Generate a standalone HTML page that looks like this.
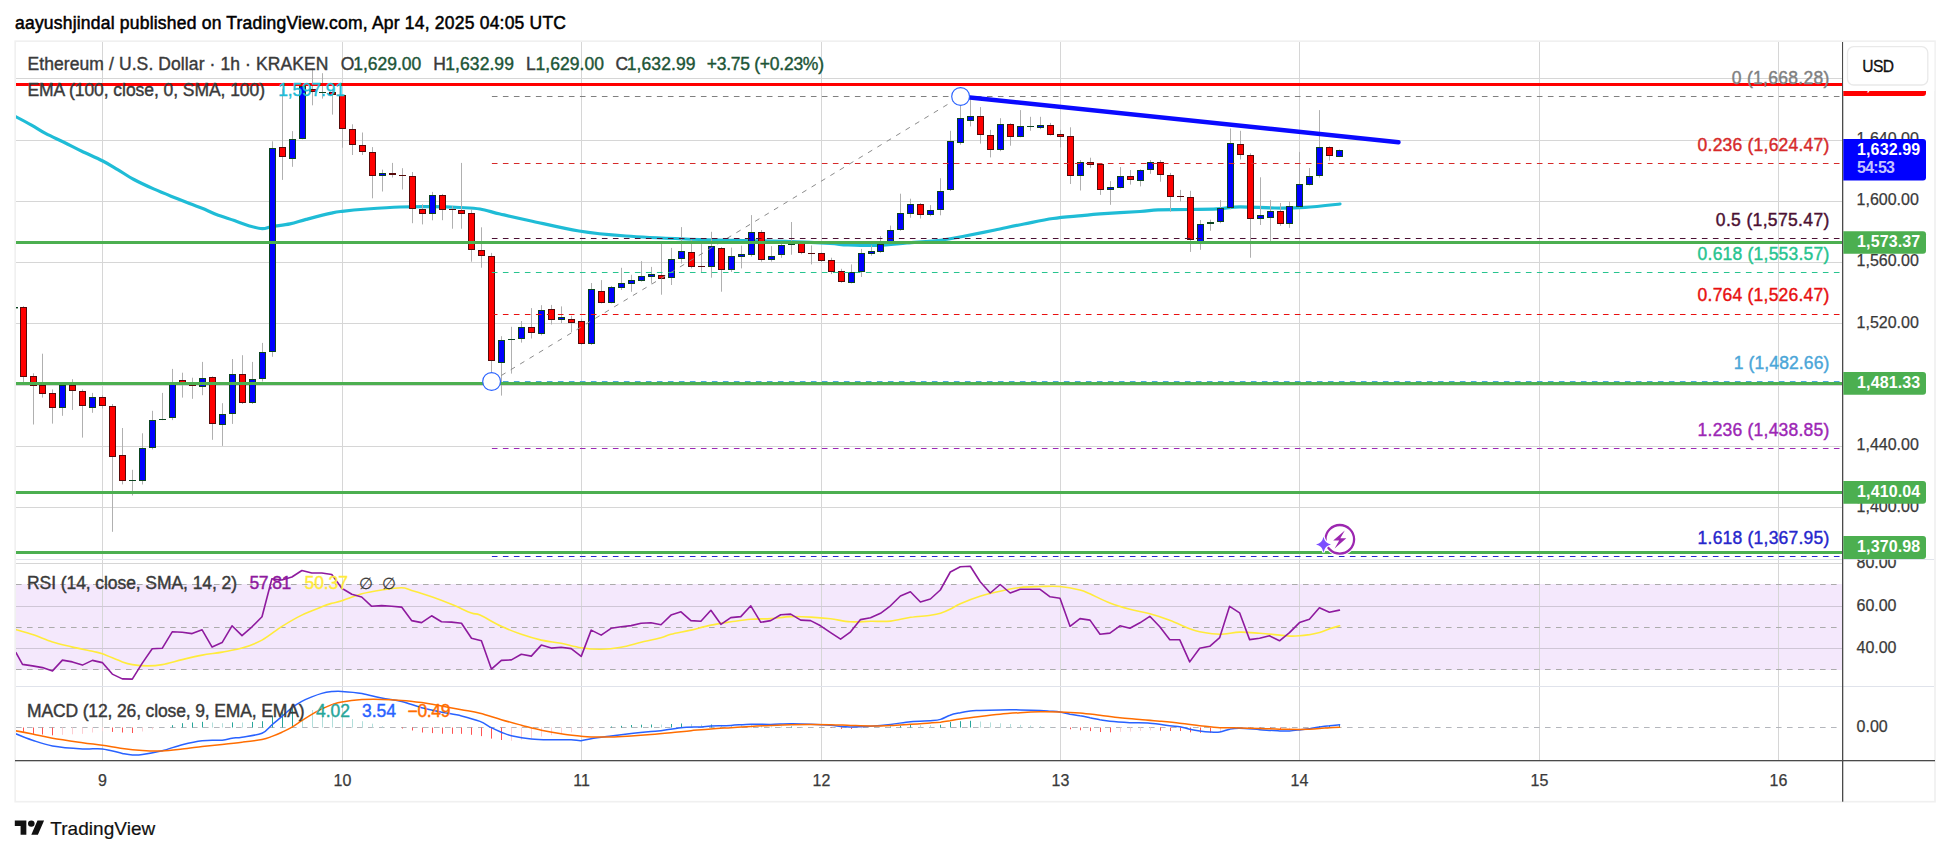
<!DOCTYPE html>
<html><head><meta charset="utf-8"><title>ETHUSD chart</title>
<style>html,body{margin:0;padding:0;background:#fff}svg{display:block}text{font-family:"Liberation Sans",sans-serif;white-space:pre}</style></head><body>
<svg width="1950" height="855" viewBox="0 0 1950 855">
<rect width="1950" height="855" fill="#fff"/>
<defs><clipPath id="cm"><rect x="16" y="42" width="1826.0" height="517.0"/></clipPath>
<clipPath id="call"><rect x="16" y="42" width="1826.0" height="718.0"/></clipPath>
<clipPath id="cax"><rect x="1842.0" y="559.8" width="95" height="200"/></clipPath></defs>
<text x="15.0" y="28.5" font-size="17.5" fill="#000" text-anchor="start" font-weight="normal" textLength="551.0" lengthAdjust="spacing" stroke="#000" stroke-width="0.5" >aayushjindal published on TradingView.com, Apr 14, 2025 04:05 UTC</text>
<rect x="15.2" y="41.2" width="1919.8" height="760.5" fill="#fff" stroke="#f0f0f0" stroke-width="1.7"/>
<rect x="16" y="584" width="1826" height="86" fill="#f4e8fc"/>
<rect x="102" y="42.0" width="1" height="718.0" fill="#d6d6d6"/>
<rect x="342" y="42.0" width="1" height="718.0" fill="#d6d6d6"/>
<rect x="581" y="42.0" width="1" height="718.0" fill="#d6d6d6"/>
<rect x="821" y="42.0" width="1" height="718.0" fill="#d6d6d6"/>
<rect x="1060" y="42.0" width="1" height="718.0" fill="#d6d6d6"/>
<rect x="1299" y="42.0" width="1" height="718.0" fill="#d6d6d6"/>
<rect x="1539" y="42.0" width="1" height="718.0" fill="#d6d6d6"/>
<rect x="1778" y="42.0" width="1" height="718.0" fill="#d6d6d6"/>
<rect x="16.0" y="78" width="1826.0" height="1" fill="#d6d6d6"/>
<rect x="16.0" y="140" width="1826.0" height="1" fill="#d6d6d6"/>
<rect x="16.0" y="201" width="1826.0" height="1" fill="#d6d6d6"/>
<rect x="16.0" y="262" width="1826.0" height="1" fill="#d6d6d6"/>
<rect x="16.0" y="323" width="1826.0" height="1" fill="#d6d6d6"/>
<rect x="16.0" y="385" width="1826.0" height="1" fill="#d6d6d6"/>
<rect x="16.0" y="446" width="1826.0" height="1" fill="#d6d6d6"/>
<rect x="16.0" y="507" width="1826.0" height="1" fill="#d6d6d6"/>
<rect x="16.0" y="563" width="1826.0" height="1" fill="#d6d6d6"/>
<rect x="16.0" y="606" width="1826.0" height="1" fill="#cfc6d6"/>
<rect x="16.0" y="648" width="1826.0" height="1" fill="#cfc6d6"/>
<rect x="16.0" y="559" width="1918.0" height="1" fill="#e0e3eb"/>
<rect x="16.0" y="686" width="1918.0" height="1" fill="#e0e3eb"/>
<line x1="16.0" y1="584.5" x2="1842.0" y2="584.5" stroke="#ababab" stroke-width="1" stroke-dasharray="5.6 5.4" stroke-dashoffset="0"/>
<line x1="16.0" y1="627.5" x2="1842.0" y2="627.5" stroke="#ababab" stroke-width="1" stroke-dasharray="5.6 5.4" stroke-dashoffset="0"/>
<line x1="16.0" y1="669.5" x2="1842.0" y2="669.5" stroke="#ababab" stroke-width="1" stroke-dasharray="5.6 5.4" stroke-dashoffset="0"/>
<line x1="16.0" y1="727.5" x2="1842.0" y2="727.5" stroke="#b4b6bc" stroke-width="1" stroke-dasharray="5.6 5.4" stroke-dashoffset="0"/>
<g clip-path="url(#call)">
<g clip-path="url(#cm)">
<path d="M15.4 116.5 C18.1 117.9 26.4 122.2 31.5 125.1 C36.6 128.0 40.5 130.8 45.9 133.7 C51.3 136.5 57.9 139.3 63.9 142.2 C69.9 145.1 75.3 148.1 81.8 151.2 C88.3 154.3 96.8 157.9 102.8 161.0 C108.8 164.1 112.5 166.5 117.7 169.6 C122.9 172.7 127.9 176.3 133.9 179.5 C139.9 182.7 147.3 186.1 153.6 188.9 C159.9 191.7 165.6 194.0 171.6 196.4 C177.6 198.8 184.4 201.6 189.5 203.6 C194.6 205.6 197.6 206.4 202.1 208.2 C206.6 210.0 211.0 212.4 216.4 214.5 C221.8 216.6 229.0 218.7 234.4 220.6 C239.8 222.5 244.1 224.3 248.7 225.7 C253.3 227.0 258.3 228.6 262.2 228.7 C266.1 228.8 267.5 227.3 272.1 226.5 C276.7 225.7 284.3 225.1 290.0 223.9 C295.7 222.7 299.3 221.2 306.2 219.4 C313.1 217.6 325.3 214.4 331.3 213.1 C337.3 211.8 336.2 212.0 342.1 211.3 C348.1 210.6 357.4 209.7 367.0 209.0 C376.6 208.3 389.0 207.4 400.0 207.0 C411.0 206.6 423.0 206.6 433.0 206.7 C443.0 206.8 452.2 207.1 460.0 207.5 C467.8 207.9 473.3 207.9 480.0 209.0 C486.7 210.1 491.7 212.1 500.0 214.0 C508.3 215.9 516.8 217.9 530.0 220.7 C543.2 223.5 563.0 228.4 579.0 231.0 C595.0 233.6 608.3 234.7 626.0 236.0 C643.7 237.3 665.5 238.2 685.0 239.0 C704.5 239.8 725.5 240.2 743.0 240.6 C760.5 241.0 775.5 241.1 790.0 241.6 C804.5 242.1 820.3 242.9 830.0 243.5 C839.7 244.1 840.0 244.7 848.0 245.0 C856.0 245.3 868.2 245.7 878.0 245.4 C887.8 245.1 896.3 243.9 907.0 243.0 C917.7 242.1 932.3 241.2 942.0 240.0 C951.7 238.8 956.2 237.7 965.0 236.0 C973.8 234.3 985.2 232.0 995.0 230.0 C1004.8 228.0 1014.3 225.9 1024.0 224.0 C1033.7 222.1 1043.3 219.9 1053.0 218.5 C1062.7 217.1 1074.2 216.4 1082.0 215.6 C1089.8 214.8 1090.3 214.6 1100.0 213.9 C1109.7 213.2 1130.3 212.2 1140.0 211.5 C1149.7 210.8 1150.0 210.1 1158.0 209.8 C1166.0 209.5 1178.2 209.7 1188.0 209.5 C1197.8 209.3 1208.3 209.3 1217.0 208.9 C1225.7 208.5 1230.3 207.0 1240.0 206.8 C1249.7 206.7 1264.2 207.9 1275.0 208.0 C1285.8 208.1 1294.2 208.1 1305.0 207.4 C1315.8 206.7 1334.2 204.6 1340.0 204.0" fill="none" stroke="#1fbcd6" stroke-width="3.2" stroke-linejoin="round" stroke-linecap="round" />
<rect x="23" y="306.1" width="1" height="76.0" fill="#b0b0b0"/>
<rect x="33" y="373.3" width="1" height="51.2" fill="#b0b0b0"/>
<rect x="42" y="353.7" width="1" height="43.9" fill="#b0b0b0"/>
<rect x="52" y="389.4" width="1" height="34.2" fill="#b0b0b0"/>
<rect x="62" y="383.6" width="1" height="32.2" fill="#b0b0b0"/>
<rect x="72" y="379.2" width="1" height="30.7" fill="#b0b0b0"/>
<rect x="82" y="389.4" width="1" height="48.2" fill="#b0b0b0"/>
<rect x="92" y="392.9" width="1" height="19.9" fill="#b0b0b0"/>
<rect x="102" y="395.3" width="1" height="13.2" fill="#b0b0b0"/>
<rect x="112" y="404.0" width="1" height="127.8" fill="#b0b0b0"/>
<rect x="122" y="428.0" width="1" height="56.4" fill="#b0b0b0"/>
<rect x="132" y="469.8" width="1" height="25.7" fill="#b0b0b0"/>
<rect x="142" y="433.3" width="1" height="51.2" fill="#b0b0b0"/>
<rect x="152" y="410.8" width="1" height="38.6" fill="#b0b0b0"/>
<rect x="162" y="392.9" width="1" height="27.2" fill="#b0b0b0"/>
<rect x="172" y="368.9" width="1" height="51.2" fill="#b0b0b0"/>
<rect x="182" y="372.7" width="1" height="24.9" fill="#b0b0b0"/>
<rect x="192" y="377.7" width="1" height="21.1" fill="#b0b0b0"/>
<rect x="202" y="361.9" width="1" height="33.3" fill="#b0b0b0"/>
<rect x="212" y="376.3" width="1" height="63.5" fill="#b0b0b0"/>
<rect x="222" y="403.2" width="1" height="42.7" fill="#b0b0b0"/>
<rect x="232" y="359.0" width="1" height="64.9" fill="#b0b0b0"/>
<rect x="242" y="355.2" width="1" height="48.8" fill="#b0b0b0"/>
<rect x="252" y="361.9" width="1" height="42.1" fill="#b0b0b0"/>
<rect x="262" y="342.9" width="1" height="38.6" fill="#b0b0b0"/>
<rect x="272" y="141.3" width="1" height="215.5" fill="#b0b0b0"/>
<rect x="282" y="88.7" width="1" height="91.2" fill="#b0b0b0"/>
<rect x="292" y="131.1" width="1" height="35.7" fill="#b0b0b0"/>
<rect x="302" y="84.0" width="1" height="55.3" fill="#b0b0b0"/>
<rect x="312" y="68.2" width="1" height="37.1" fill="#b0b0b0"/>
<rect x="322" y="73.2" width="1" height="25.4" fill="#b0b0b0"/>
<rect x="332" y="89.2" width="1" height="25.4" fill="#b0b0b0"/>
<rect x="342" y="94.5" width="1" height="53.2" fill="#b0b0b0"/>
<rect x="352" y="124.3" width="1" height="30.7" fill="#b0b0b0"/>
<rect x="362" y="132.5" width="1" height="22.5" fill="#b0b0b0"/>
<rect x="372" y="147.1" width="1" height="51.2" fill="#b0b0b0"/>
<rect x="382" y="169.6" width="1" height="21.9" fill="#b0b0b0"/>
<rect x="392" y="162.9" width="1" height="14.6" fill="#b0b0b0"/>
<rect x="402" y="168.2" width="1" height="21.3" fill="#b0b0b0"/>
<rect x="412" y="172.0" width="1" height="51.2" fill="#b0b0b0"/>
<rect x="422" y="204.2" width="1" height="20.2" fill="#b0b0b0"/>
<rect x="432" y="191.9" width="1" height="28.4" fill="#b0b0b0"/>
<rect x="442" y="193.9" width="1" height="26.3" fill="#b0b0b0"/>
<rect x="452" y="206.2" width="1" height="22.5" fill="#b0b0b0"/>
<rect x="461" y="162.9" width="1" height="65.8" fill="#b0b0b0"/>
<rect x="471" y="209.1" width="1" height="52.6" fill="#b0b0b0"/>
<rect x="481" y="227.3" width="1" height="40.4" fill="#b0b0b0"/>
<rect x="491" y="252.9" width="1" height="127.2" fill="#b0b0b0"/>
<rect x="501" y="336.2" width="1" height="59.4" fill="#b0b0b0"/>
<rect x="511" y="326.8" width="1" height="46.8" fill="#b0b0b0"/>
<rect x="521" y="321.0" width="1" height="21.6" fill="#b0b0b0"/>
<rect x="531" y="308.1" width="1" height="30.4" fill="#b0b0b0"/>
<rect x="541" y="305.2" width="1" height="30.1" fill="#b0b0b0"/>
<rect x="551" y="304.9" width="1" height="19.6" fill="#b0b0b0"/>
<rect x="561" y="306.4" width="1" height="16.7" fill="#b0b0b0"/>
<rect x="571" y="315.7" width="1" height="16.4" fill="#b0b0b0"/>
<rect x="581" y="318.7" width="1" height="26.3" fill="#b0b0b0"/>
<rect x="591" y="283.0" width="1" height="62.0" fill="#b0b0b0"/>
<rect x="601" y="280.1" width="1" height="23.4" fill="#b0b0b0"/>
<rect x="611" y="285.9" width="1" height="17.5" fill="#b0b0b0"/>
<rect x="621" y="267.8" width="1" height="22.2" fill="#b0b0b0"/>
<rect x="631" y="274.8" width="1" height="17.0" fill="#b0b0b0"/>
<rect x="641" y="261.1" width="1" height="20.5" fill="#b0b0b0"/>
<rect x="651" y="266.9" width="1" height="16.7" fill="#b0b0b0"/>
<rect x="661" y="243.2" width="1" height="51.5" fill="#b0b0b0"/>
<rect x="671" y="247.9" width="1" height="37.1" fill="#b0b0b0"/>
<rect x="681" y="227.1" width="1" height="36.5" fill="#b0b0b0"/>
<rect x="691" y="239.7" width="1" height="28.7" fill="#b0b0b0"/>
<rect x="701" y="244.1" width="1" height="28.7" fill="#b0b0b0"/>
<rect x="711" y="231.8" width="1" height="45.9" fill="#b0b0b0"/>
<rect x="721" y="247.0" width="1" height="44.7" fill="#b0b0b0"/>
<rect x="731" y="247.6" width="1" height="24.3" fill="#b0b0b0"/>
<rect x="741" y="245.6" width="1" height="22.8" fill="#b0b0b0"/>
<rect x="751" y="215.1" width="1" height="41.5" fill="#b0b0b0"/>
<rect x="761" y="230.1" width="1" height="31.6" fill="#b0b0b0"/>
<rect x="771" y="246.1" width="1" height="15.5" fill="#b0b0b0"/>
<rect x="781" y="244.1" width="1" height="13.7" fill="#b0b0b0"/>
<rect x="791" y="222.0" width="1" height="32.7" fill="#b0b0b0"/>
<rect x="801" y="241.6" width="1" height="12.6" fill="#b0b0b0"/>
<rect x="811" y="245.4" width="1" height="19.0" fill="#b0b0b0"/>
<rect x="821" y="252.5" width="1" height="9.6" fill="#b0b0b0"/>
<rect x="831" y="257.7" width="1" height="16.4" fill="#b0b0b0"/>
<rect x="841" y="268.8" width="1" height="14.0" fill="#b0b0b0"/>
<rect x="851" y="264.4" width="1" height="19.0" fill="#b0b0b0"/>
<rect x="861" y="248.9" width="1" height="28.1" fill="#b0b0b0"/>
<rect x="871" y="245.4" width="1" height="10.2" fill="#b0b0b0"/>
<rect x="880" y="236.1" width="1" height="16.7" fill="#b0b0b0"/>
<rect x="890" y="225.6" width="1" height="17.0" fill="#b0b0b0"/>
<rect x="900" y="193.7" width="1" height="37.1" fill="#b0b0b0"/>
<rect x="910" y="198.7" width="1" height="19.0" fill="#b0b0b0"/>
<rect x="920" y="203.0" width="1" height="15.5" fill="#b0b0b0"/>
<rect x="930" y="205.1" width="1" height="11.1" fill="#b0b0b0"/>
<rect x="940" y="178.2" width="1" height="37.1" fill="#b0b0b0"/>
<rect x="950" y="130.8" width="1" height="60.2" fill="#b0b0b0"/>
<rect x="960" y="96.9" width="1" height="47.7" fill="#b0b0b0"/>
<rect x="970" y="99.2" width="1" height="27.2" fill="#b0b0b0"/>
<rect x="980" y="107.1" width="1" height="36.5" fill="#b0b0b0"/>
<rect x="990" y="129.9" width="1" height="27.5" fill="#b0b0b0"/>
<rect x="1000" y="118.2" width="1" height="33.0" fill="#b0b0b0"/>
<rect x="1010" y="123.2" width="1" height="22.5" fill="#b0b0b0"/>
<rect x="1020" y="110.1" width="1" height="27.2" fill="#b0b0b0"/>
<rect x="1030" y="116.8" width="1" height="14.0" fill="#b0b0b0"/>
<rect x="1040" y="116.8" width="1" height="12.3" fill="#b0b0b0"/>
<rect x="1050" y="122.9" width="1" height="12.6" fill="#b0b0b0"/>
<rect x="1060" y="129.9" width="1" height="17.5" fill="#b0b0b0"/>
<rect x="1070" y="127.3" width="1" height="56.7" fill="#b0b0b0"/>
<rect x="1080" y="160.1" width="1" height="30.4" fill="#b0b0b0"/>
<rect x="1090" y="157.7" width="1" height="10.2" fill="#b0b0b0"/>
<rect x="1100" y="163.0" width="1" height="31.9" fill="#b0b0b0"/>
<rect x="1110" y="181.1" width="1" height="23.7" fill="#b0b0b0"/>
<rect x="1120" y="167.1" width="1" height="21.3" fill="#b0b0b0"/>
<rect x="1130" y="170.0" width="1" height="14.6" fill="#b0b0b0"/>
<rect x="1140" y="169.4" width="1" height="17.0" fill="#b0b0b0"/>
<rect x="1150" y="160.1" width="1" height="13.7" fill="#b0b0b0"/>
<rect x="1160" y="160.1" width="1" height="21.6" fill="#b0b0b0"/>
<rect x="1170" y="172.9" width="1" height="38.9" fill="#b0b0b0"/>
<rect x="1180" y="189.9" width="1" height="11.7" fill="#b0b0b0"/>
<rect x="1190" y="190.8" width="1" height="61.1" fill="#b0b0b0"/>
<rect x="1200" y="220.0" width="1" height="29.8" fill="#b0b0b0"/>
<rect x="1210" y="219.7" width="1" height="11.1" fill="#b0b0b0"/>
<rect x="1220" y="200.1" width="1" height="23.1" fill="#b0b0b0"/>
<rect x="1230" y="128.5" width="1" height="80.7" fill="#b0b0b0"/>
<rect x="1240" y="130.8" width="1" height="28.7" fill="#b0b0b0"/>
<rect x="1250" y="153.3" width="1" height="104.4" fill="#b0b0b0"/>
<rect x="1260" y="177.3" width="1" height="47.7" fill="#b0b0b0"/>
<rect x="1270" y="200.1" width="1" height="40.9" fill="#b0b0b0"/>
<rect x="1280" y="203.0" width="1" height="22.8" fill="#b0b0b0"/>
<rect x="1289" y="201.6" width="1" height="26.3" fill="#b0b0b0"/>
<rect x="1299" y="151.9" width="1" height="55.6" fill="#b0b0b0"/>
<rect x="1309" y="168.0" width="1" height="17.5" fill="#b0b0b0"/>
<rect x="1319" y="110.1" width="1" height="67.5" fill="#b0b0b0"/>
<rect x="1329" y="146.3" width="1" height="14.3" fill="#b0b0b0"/>
<rect x="1339" y="149.5" width="1" height="7.6" fill="#b0b0b0"/>
<rect x="20" y="307" width="7" height="70" fill="#560a0a"/>
<rect x="21" y="308" width="5" height="68" fill="#ff0000"/>
<rect x="30" y="376" width="7" height="10" fill="#560a0a"/>
<rect x="31" y="377" width="5" height="8" fill="#ff0000"/>
<rect x="39" y="385" width="7" height="9" fill="#560a0a"/>
<rect x="40" y="386" width="5" height="7" fill="#ff0000"/>
<rect x="49" y="393" width="7" height="15" fill="#560a0a"/>
<rect x="50" y="394" width="5" height="13" fill="#ff0000"/>
<rect x="59" y="385" width="7" height="23" fill="#0c4520"/>
<rect x="60" y="386" width="5" height="21" fill="#0000ff"/>
<rect x="69" y="385" width="7" height="6" fill="#560a0a"/>
<rect x="70" y="386" width="5" height="4" fill="#ff0000"/>
<rect x="79" y="391" width="7" height="15" fill="#560a0a"/>
<rect x="80" y="392" width="5" height="13" fill="#ff0000"/>
<rect x="89" y="397" width="7" height="11" fill="#0c4520"/>
<rect x="90" y="398" width="5" height="9" fill="#0000ff"/>
<rect x="99" y="397" width="7" height="9" fill="#560a0a"/>
<rect x="100" y="398" width="5" height="7" fill="#ff0000"/>
<rect x="109" y="406" width="7" height="51" fill="#560a0a"/>
<rect x="110" y="407" width="5" height="49" fill="#ff0000"/>
<rect x="119" y="455" width="7" height="26" fill="#560a0a"/>
<rect x="120" y="456" width="5" height="24" fill="#ff0000"/>
<rect x="129" y="480" width="7" height="1" fill="#0c4520"/>
<rect x="139" y="448" width="7" height="33" fill="#0c4520"/>
<rect x="140" y="449" width="5" height="31" fill="#0000ff"/>
<rect x="149" y="420" width="7" height="28" fill="#0c4520"/>
<rect x="150" y="421" width="5" height="26" fill="#0000ff"/>
<rect x="159" y="419" width="7" height="1" fill="#0c4520"/>
<rect x="169" y="382" width="7" height="36" fill="#0c4520"/>
<rect x="170" y="383" width="5" height="34" fill="#0000ff"/>
<rect x="179" y="380" width="7" height="3" fill="#560a0a"/>
<rect x="180" y="381" width="5" height="1" fill="#ff0000"/>
<rect x="189" y="385" width="7" height="1" fill="#560a0a"/>
<rect x="199" y="378" width="7" height="9" fill="#0c4520"/>
<rect x="200" y="379" width="5" height="7" fill="#0000ff"/>
<rect x="209" y="377" width="7" height="47" fill="#560a0a"/>
<rect x="210" y="378" width="5" height="45" fill="#ff0000"/>
<rect x="219" y="414" width="7" height="11" fill="#0c4520"/>
<rect x="220" y="415" width="5" height="9" fill="#0000ff"/>
<rect x="229" y="374" width="7" height="40" fill="#0c4520"/>
<rect x="230" y="375" width="5" height="38" fill="#0000ff"/>
<rect x="239" y="374" width="7" height="29" fill="#560a0a"/>
<rect x="240" y="375" width="5" height="27" fill="#ff0000"/>
<rect x="249" y="379" width="7" height="24" fill="#0c4520"/>
<rect x="250" y="380" width="5" height="22" fill="#0000ff"/>
<rect x="259" y="352" width="7" height="27" fill="#0c4520"/>
<rect x="260" y="353" width="5" height="25" fill="#0000ff"/>
<rect x="269" y="148" width="7" height="204" fill="#0c4520"/>
<rect x="270" y="149" width="5" height="202" fill="#0000ff"/>
<rect x="279" y="147" width="7" height="10" fill="#560a0a"/>
<rect x="280" y="148" width="5" height="8" fill="#ff0000"/>
<rect x="289" y="139" width="7" height="20" fill="#0c4520"/>
<rect x="290" y="140" width="5" height="18" fill="#0000ff"/>
<rect x="299" y="86" width="7" height="53" fill="#0c4520"/>
<rect x="300" y="87" width="5" height="51" fill="#0000ff"/>
<rect x="309" y="89" width="7" height="3" fill="#560a0a"/>
<rect x="310" y="90" width="5" height="1" fill="#ff0000"/>
<rect x="319" y="92" width="7" height="1" fill="#0c4520"/>
<rect x="329" y="92" width="7" height="3" fill="#560a0a"/>
<rect x="330" y="93" width="5" height="1" fill="#ff0000"/>
<rect x="339" y="95" width="7" height="34" fill="#560a0a"/>
<rect x="340" y="96" width="5" height="32" fill="#ff0000"/>
<rect x="349" y="129" width="7" height="16" fill="#560a0a"/>
<rect x="350" y="130" width="5" height="14" fill="#ff0000"/>
<rect x="359" y="145" width="7" height="7" fill="#560a0a"/>
<rect x="360" y="146" width="5" height="5" fill="#ff0000"/>
<rect x="369" y="152" width="7" height="24" fill="#560a0a"/>
<rect x="370" y="153" width="5" height="22" fill="#ff0000"/>
<rect x="379" y="173" width="7" height="3" fill="#0c4520"/>
<rect x="380" y="174" width="5" height="1" fill="#0000ff"/>
<rect x="389" y="173" width="7" height="2" fill="#560a0a"/>
<rect x="399" y="175" width="7" height="1" fill="#560a0a"/>
<rect x="409" y="176" width="7" height="33" fill="#560a0a"/>
<rect x="410" y="177" width="5" height="31" fill="#ff0000"/>
<rect x="419" y="209" width="7" height="5" fill="#560a0a"/>
<rect x="420" y="210" width="5" height="3" fill="#ff0000"/>
<rect x="429" y="195" width="7" height="19" fill="#0c4520"/>
<rect x="430" y="196" width="5" height="17" fill="#0000ff"/>
<rect x="439" y="195" width="7" height="15" fill="#560a0a"/>
<rect x="440" y="196" width="5" height="13" fill="#ff0000"/>
<rect x="449" y="209" width="7" height="1" fill="#560a0a"/>
<rect x="458" y="210" width="7" height="4" fill="#560a0a"/>
<rect x="459" y="211" width="5" height="2" fill="#ff0000"/>
<rect x="468" y="213" width="7" height="37" fill="#560a0a"/>
<rect x="469" y="214" width="5" height="35" fill="#ff0000"/>
<rect x="478" y="250" width="7" height="6" fill="#560a0a"/>
<rect x="479" y="251" width="5" height="4" fill="#ff0000"/>
<rect x="488" y="256" width="7" height="105" fill="#560a0a"/>
<rect x="489" y="257" width="5" height="103" fill="#ff0000"/>
<rect x="498" y="340" width="7" height="23" fill="#0c4520"/>
<rect x="499" y="341" width="5" height="21" fill="#0000ff"/>
<rect x="508" y="339" width="7" height="1" fill="#0c4520"/>
<rect x="518" y="327" width="7" height="12" fill="#0c4520"/>
<rect x="519" y="328" width="5" height="10" fill="#0000ff"/>
<rect x="528" y="327" width="7" height="6" fill="#560a0a"/>
<rect x="529" y="328" width="5" height="4" fill="#ff0000"/>
<rect x="538" y="310" width="7" height="24" fill="#0c4520"/>
<rect x="539" y="311" width="5" height="22" fill="#0000ff"/>
<rect x="548" y="309" width="7" height="11" fill="#560a0a"/>
<rect x="549" y="310" width="5" height="9" fill="#ff0000"/>
<rect x="558" y="317" width="7" height="3" fill="#0c4520"/>
<rect x="559" y="318" width="5" height="1" fill="#0000ff"/>
<rect x="568" y="319" width="7" height="4" fill="#560a0a"/>
<rect x="569" y="320" width="5" height="2" fill="#ff0000"/>
<rect x="578" y="321" width="7" height="23" fill="#560a0a"/>
<rect x="579" y="322" width="5" height="21" fill="#ff0000"/>
<rect x="588" y="289" width="7" height="55" fill="#0c4520"/>
<rect x="589" y="290" width="5" height="53" fill="#0000ff"/>
<rect x="598" y="291" width="7" height="12" fill="#560a0a"/>
<rect x="599" y="292" width="5" height="10" fill="#ff0000"/>
<rect x="608" y="287" width="7" height="16" fill="#0c4520"/>
<rect x="609" y="288" width="5" height="14" fill="#0000ff"/>
<rect x="618" y="283" width="7" height="5" fill="#0c4520"/>
<rect x="619" y="284" width="5" height="3" fill="#0000ff"/>
<rect x="628" y="280" width="7" height="4" fill="#0c4520"/>
<rect x="629" y="281" width="5" height="2" fill="#0000ff"/>
<rect x="638" y="276" width="7" height="5" fill="#0c4520"/>
<rect x="639" y="277" width="5" height="3" fill="#0000ff"/>
<rect x="648" y="274" width="7" height="3" fill="#0c4520"/>
<rect x="649" y="275" width="5" height="1" fill="#0000ff"/>
<rect x="658" y="275" width="7" height="4" fill="#560a0a"/>
<rect x="659" y="276" width="5" height="2" fill="#ff0000"/>
<rect x="668" y="259" width="7" height="19" fill="#0c4520"/>
<rect x="669" y="260" width="5" height="17" fill="#0000ff"/>
<rect x="678" y="251" width="7" height="8" fill="#0c4520"/>
<rect x="679" y="252" width="5" height="6" fill="#0000ff"/>
<rect x="688" y="252" width="7" height="15" fill="#560a0a"/>
<rect x="689" y="253" width="5" height="13" fill="#ff0000"/>
<rect x="698" y="266" width="7" height="1" fill="#560a0a"/>
<rect x="708" y="246" width="7" height="21" fill="#0c4520"/>
<rect x="709" y="247" width="5" height="19" fill="#0000ff"/>
<rect x="718" y="248" width="7" height="22" fill="#560a0a"/>
<rect x="719" y="249" width="5" height="20" fill="#ff0000"/>
<rect x="728" y="256" width="7" height="14" fill="#0c4520"/>
<rect x="729" y="257" width="5" height="12" fill="#0000ff"/>
<rect x="738" y="254" width="7" height="3" fill="#0c4520"/>
<rect x="739" y="255" width="5" height="1" fill="#0000ff"/>
<rect x="748" y="232" width="7" height="23" fill="#0c4520"/>
<rect x="749" y="233" width="5" height="21" fill="#0000ff"/>
<rect x="758" y="232" width="7" height="28" fill="#560a0a"/>
<rect x="759" y="233" width="5" height="26" fill="#ff0000"/>
<rect x="768" y="256" width="7" height="4" fill="#0c4520"/>
<rect x="769" y="257" width="5" height="2" fill="#0000ff"/>
<rect x="778" y="245" width="7" height="10" fill="#0c4520"/>
<rect x="779" y="246" width="5" height="8" fill="#0000ff"/>
<rect x="788" y="243" width="7" height="2" fill="#0c4520"/>
<rect x="798" y="243" width="7" height="10" fill="#560a0a"/>
<rect x="799" y="244" width="5" height="8" fill="#ff0000"/>
<rect x="808" y="253" width="7" height="1" fill="#560a0a"/>
<rect x="818" y="253" width="7" height="8" fill="#560a0a"/>
<rect x="819" y="254" width="5" height="6" fill="#ff0000"/>
<rect x="828" y="260" width="7" height="12" fill="#560a0a"/>
<rect x="829" y="261" width="5" height="10" fill="#ff0000"/>
<rect x="838" y="271" width="7" height="11" fill="#560a0a"/>
<rect x="839" y="272" width="5" height="9" fill="#ff0000"/>
<rect x="848" y="272" width="7" height="11" fill="#0c4520"/>
<rect x="849" y="273" width="5" height="9" fill="#0000ff"/>
<rect x="858" y="253" width="7" height="19" fill="#0c4520"/>
<rect x="859" y="254" width="5" height="17" fill="#0000ff"/>
<rect x="868" y="251" width="7" height="3" fill="#0c4520"/>
<rect x="869" y="252" width="5" height="1" fill="#0000ff"/>
<rect x="877" y="244" width="7" height="8" fill="#0c4520"/>
<rect x="878" y="245" width="5" height="6" fill="#0000ff"/>
<rect x="887" y="230" width="7" height="12" fill="#0c4520"/>
<rect x="888" y="231" width="5" height="10" fill="#0000ff"/>
<rect x="897" y="213" width="7" height="17" fill="#0c4520"/>
<rect x="898" y="214" width="5" height="15" fill="#0000ff"/>
<rect x="907" y="204" width="7" height="10" fill="#0c4520"/>
<rect x="908" y="205" width="5" height="8" fill="#0000ff"/>
<rect x="917" y="204" width="7" height="11" fill="#560a0a"/>
<rect x="918" y="205" width="5" height="9" fill="#ff0000"/>
<rect x="927" y="210" width="7" height="5" fill="#0c4520"/>
<rect x="928" y="211" width="5" height="3" fill="#0000ff"/>
<rect x="937" y="191" width="7" height="19" fill="#0c4520"/>
<rect x="938" y="192" width="5" height="17" fill="#0000ff"/>
<rect x="947" y="141" width="7" height="49" fill="#0c4520"/>
<rect x="948" y="142" width="5" height="47" fill="#0000ff"/>
<rect x="957" y="118" width="7" height="25" fill="#0c4520"/>
<rect x="958" y="119" width="5" height="23" fill="#0000ff"/>
<rect x="967" y="116" width="7" height="5" fill="#0c4520"/>
<rect x="968" y="117" width="5" height="3" fill="#0000ff"/>
<rect x="977" y="116" width="7" height="19" fill="#560a0a"/>
<rect x="978" y="117" width="5" height="17" fill="#ff0000"/>
<rect x="987" y="135" width="7" height="15" fill="#560a0a"/>
<rect x="988" y="136" width="5" height="13" fill="#ff0000"/>
<rect x="997" y="124" width="7" height="26" fill="#0c4520"/>
<rect x="998" y="125" width="5" height="24" fill="#0000ff"/>
<rect x="1007" y="124" width="7" height="13" fill="#560a0a"/>
<rect x="1008" y="125" width="5" height="11" fill="#ff0000"/>
<rect x="1017" y="126" width="7" height="11" fill="#0c4520"/>
<rect x="1018" y="127" width="5" height="9" fill="#0000ff"/>
<rect x="1027" y="126" width="7" height="1" fill="#0c4520"/>
<rect x="1037" y="125" width="7" height="3" fill="#0c4520"/>
<rect x="1038" y="126" width="5" height="1" fill="#0000ff"/>
<rect x="1047" y="125" width="7" height="10" fill="#560a0a"/>
<rect x="1048" y="126" width="5" height="8" fill="#ff0000"/>
<rect x="1057" y="134" width="7" height="3" fill="#560a0a"/>
<rect x="1058" y="135" width="5" height="1" fill="#ff0000"/>
<rect x="1067" y="136" width="7" height="40" fill="#560a0a"/>
<rect x="1068" y="137" width="5" height="38" fill="#ff0000"/>
<rect x="1077" y="162" width="7" height="14" fill="#0c4520"/>
<rect x="1078" y="163" width="5" height="12" fill="#0000ff"/>
<rect x="1087" y="162" width="7" height="3" fill="#560a0a"/>
<rect x="1088" y="163" width="5" height="1" fill="#ff0000"/>
<rect x="1097" y="164" width="7" height="26" fill="#560a0a"/>
<rect x="1098" y="165" width="5" height="24" fill="#ff0000"/>
<rect x="1107" y="187" width="7" height="3" fill="#0c4520"/>
<rect x="1108" y="188" width="5" height="1" fill="#0000ff"/>
<rect x="1117" y="176" width="7" height="12" fill="#0c4520"/>
<rect x="1118" y="177" width="5" height="10" fill="#0000ff"/>
<rect x="1127" y="176" width="7" height="4" fill="#560a0a"/>
<rect x="1128" y="177" width="5" height="2" fill="#ff0000"/>
<rect x="1137" y="170" width="7" height="11" fill="#0c4520"/>
<rect x="1138" y="171" width="5" height="9" fill="#0000ff"/>
<rect x="1147" y="162" width="7" height="8" fill="#0c4520"/>
<rect x="1148" y="163" width="5" height="6" fill="#0000ff"/>
<rect x="1157" y="162" width="7" height="13" fill="#560a0a"/>
<rect x="1158" y="163" width="5" height="11" fill="#ff0000"/>
<rect x="1167" y="175" width="7" height="22" fill="#560a0a"/>
<rect x="1168" y="176" width="5" height="20" fill="#ff0000"/>
<rect x="1177" y="196" width="7" height="1" fill="#560a0a"/>
<rect x="1187" y="197" width="7" height="43" fill="#560a0a"/>
<rect x="1188" y="198" width="5" height="41" fill="#ff0000"/>
<rect x="1197" y="224" width="7" height="20" fill="#0c4520"/>
<rect x="1198" y="225" width="5" height="18" fill="#0000ff"/>
<rect x="1207" y="222" width="7" height="2" fill="#0c4520"/>
<rect x="1217" y="208" width="7" height="14" fill="#0c4520"/>
<rect x="1218" y="209" width="5" height="12" fill="#0000ff"/>
<rect x="1227" y="143" width="7" height="65" fill="#0c4520"/>
<rect x="1228" y="144" width="5" height="63" fill="#0000ff"/>
<rect x="1237" y="144" width="7" height="11" fill="#560a0a"/>
<rect x="1238" y="145" width="5" height="9" fill="#ff0000"/>
<rect x="1247" y="155" width="7" height="64" fill="#560a0a"/>
<rect x="1248" y="156" width="5" height="62" fill="#ff0000"/>
<rect x="1257" y="215" width="7" height="4" fill="#0c4520"/>
<rect x="1258" y="216" width="5" height="2" fill="#0000ff"/>
<rect x="1267" y="211" width="7" height="7" fill="#0c4520"/>
<rect x="1268" y="212" width="5" height="5" fill="#0000ff"/>
<rect x="1277" y="211" width="7" height="13" fill="#560a0a"/>
<rect x="1278" y="212" width="5" height="11" fill="#ff0000"/>
<rect x="1286" y="206" width="7" height="18" fill="#0c4520"/>
<rect x="1287" y="207" width="5" height="16" fill="#0000ff"/>
<rect x="1296" y="184" width="7" height="23" fill="#0c4520"/>
<rect x="1297" y="185" width="5" height="21" fill="#0000ff"/>
<rect x="1306" y="176" width="7" height="9" fill="#0c4520"/>
<rect x="1307" y="177" width="5" height="7" fill="#0000ff"/>
<rect x="1316" y="147" width="7" height="29" fill="#0c4520"/>
<rect x="1317" y="148" width="5" height="27" fill="#0000ff"/>
<rect x="1326" y="147" width="7" height="9" fill="#560a0a"/>
<rect x="1327" y="148" width="5" height="7" fill="#ff0000"/>
<rect x="1336" y="150" width="7" height="7" fill="#0c4520"/>
<rect x="1337" y="151" width="5" height="5" fill="#0000ff"/>
<rect x="16" y="307" width="2" height="1.4" fill="#0c4520"/>
<line x1="491.9" y1="381.2" x2="960.3" y2="96.7" stroke="#8c8c8c" stroke-width="1" stroke-dasharray="5 6"/>
<line x1="491.9" y1="96.5" x2="1842.0" y2="96.5" stroke="#808080" stroke-width="1" stroke-dasharray="5.6 5.4" stroke-dashoffset="0"/>
<line x1="491.9" y1="163.5" x2="1842.0" y2="163.5" stroke="#d62a2a" stroke-width="1" stroke-dasharray="5.6 5.4" stroke-dashoffset="0"/>
<line x1="491.9" y1="238.5" x2="1842.0" y2="238.5" stroke="#4b1033" stroke-width="1" stroke-dasharray="5.6 5.4" stroke-dashoffset="0"/>
<line x1="491.9" y1="272.5" x2="1842.0" y2="272.5" stroke="#27c48f" stroke-width="1" stroke-dasharray="5.6 5.4" stroke-dashoffset="0"/>
<line x1="491.9" y1="314.5" x2="1842.0" y2="314.5" stroke="#e81010" stroke-width="1" stroke-dasharray="5.6 5.4" stroke-dashoffset="0"/>
<line x1="491.9" y1="381.5" x2="1842.0" y2="381.5" stroke="#4ba6d8" stroke-width="1" stroke-dasharray="5.6 5.4" stroke-dashoffset="0"/>
<line x1="491.9" y1="448.5" x2="1842.0" y2="448.5" stroke="#9c27b5" stroke-width="1" stroke-dasharray="5.6 5.4" stroke-dashoffset="0"/>
<line x1="491.9" y1="556.5" x2="1842.0" y2="556.5" stroke="#2626cc" stroke-width="1" stroke-dasharray="5.6 5.4" stroke-dashoffset="0"/>
<rect x="16.0" y="83" width="1826.0" height="3" fill="#ff0000"/>
<rect x="16.0" y="241" width="1826.0" height="3" fill="#4caf50"/>
<rect x="16.0" y="382" width="1826.0" height="3" fill="#4caf50"/>
<rect x="16.0" y="491" width="1826.0" height="3" fill="#4caf50"/>
<rect x="16.0" y="551" width="1826.0" height="3" fill="#4caf50"/>
<line x1="960.3" y1="96.5" x2="1398.5" y2="142.2" stroke="#0a0aff" stroke-width="4.4" stroke-linecap="round"/>
<circle cx="960.6" cy="96.5" r="8.9" fill="#fff" stroke="#2962ff" stroke-width="1.15"/>
<circle cx="491.6" cy="381.5" r="8.9" fill="#fff" stroke="#2962ff" stroke-width="1.15"/>
<text x="1829.3" y="84.1" font-size="17.5" fill="#808080" text-anchor="end" font-weight="normal" textLength="97.5" lengthAdjust="spacing" stroke="#808080" stroke-width="0.4" >0 (1,668.28)</text>
<text x="1829.3" y="151.2" font-size="17.5" fill="#d62a2a" text-anchor="end" font-weight="normal" textLength="131.7" lengthAdjust="spacing" stroke="#d62a2a" stroke-width="0.4" >0.236 (1,624.47)</text>
<text x="1829.3" y="226.3" font-size="17.5" fill="#4b1033" text-anchor="end" font-weight="normal" textLength="113.5" lengthAdjust="spacing" stroke="#4b1033" stroke-width="0.4" >0.5 (1,575.47)</text>
<text x="1829.3" y="259.9" font-size="17.5" fill="#27c48f" text-anchor="end" font-weight="normal" textLength="131.7" lengthAdjust="spacing" stroke="#27c48f" stroke-width="0.4" >0.618 (1,553.57)</text>
<text x="1829.3" y="301.4" font-size="17.5" fill="#e81010" text-anchor="end" font-weight="normal" textLength="131.7" lengthAdjust="spacing" stroke="#e81010" stroke-width="0.4" >0.764 (1,526.47)</text>
<text x="1829.3" y="368.6" font-size="17.5" fill="#4ba6d8" text-anchor="end" font-weight="normal" textLength="95.5" lengthAdjust="spacing" stroke="#4ba6d8" stroke-width="0.4" >1 (1,482.66)</text>
<text x="1829.3" y="435.7" font-size="17.5" fill="#9c27b5" text-anchor="end" font-weight="normal" textLength="131.7" lengthAdjust="spacing" stroke="#9c27b5" stroke-width="0.4" >1.236 (1,438.85)</text>
<text x="1829.3" y="544.4" font-size="17.5" fill="#2626cc" text-anchor="end" font-weight="normal" textLength="131.7" lengthAdjust="spacing" stroke="#2626cc" stroke-width="0.4" >1.618 (1,367.95)</text>
</g>
<path d="M15.0 629.3 C17.9 630.2 26.3 632.5 32.5 634.6 C38.8 636.7 45.9 640.0 52.5 642.1 C59.2 644.2 65.9 645.5 72.6 647.1 C79.2 648.6 87.6 650.2 92.6 651.3 C97.5 652.5 97.4 652.1 102.3 653.8 C107.3 655.6 117.4 660.1 122.4 661.9 C127.4 663.7 128.2 663.9 132.4 664.6 C136.6 665.3 142.7 665.9 147.6 665.9 C152.6 665.9 156.4 665.7 162.2 664.6 C167.9 663.6 175.5 661.2 182.2 659.6 C188.8 658.0 195.5 656.4 202.2 655.1 C208.9 653.8 215.6 653.3 222.2 652.1 C228.8 650.9 235.4 650.1 242.0 648.1 C248.6 646.1 255.3 643.7 262.0 640.1 C268.7 636.5 275.4 630.5 282.0 626.3 C288.7 622.2 295.2 618.3 301.8 615.1 C308.4 611.8 316.8 608.8 321.8 606.8 C326.8 604.8 328.5 604.3 331.8 603.3 C335.2 602.3 336.8 602.4 341.8 600.8 C346.8 599.2 355.2 595.6 361.9 593.8 C368.5 592.0 375.0 591.0 381.6 590.0 C388.3 589.0 396.6 587.7 401.6 587.8 C406.6 587.9 406.6 589.0 411.7 590.5 C416.7 592.0 425.0 594.5 431.7 596.8 C438.3 599.1 444.8 601.6 451.4 604.3 C458.1 607.0 466.7 611.3 471.5 613.1 C476.2 614.9 475.0 612.8 480.0 615.1 C485.0 617.3 494.4 623.1 501.3 626.3 C508.2 629.5 514.6 632.0 521.3 634.3 C528.0 636.6 534.7 638.6 541.3 640.1 C547.9 641.6 554.4 642.0 561.1 643.3 C567.7 644.6 574.4 646.8 581.1 647.8 C587.8 648.8 594.4 649.4 601.1 649.3 C607.8 649.3 614.5 648.5 621.1 647.3 C627.8 646.2 634.5 643.9 641.2 642.3 C647.8 640.8 656.0 639.2 660.9 637.8 C665.9 636.5 665.9 635.6 670.9 634.3 C675.9 633.0 684.3 631.6 691.0 630.1 C697.6 628.5 704.3 626.4 711.0 625.1 C717.7 623.7 724.4 622.8 731.0 621.8 C737.6 620.9 744.1 619.9 750.8 619.3 C757.4 618.8 764.1 619.0 770.8 618.6 C777.5 618.1 784.1 616.8 790.8 616.6 C797.5 616.3 804.2 616.7 810.8 617.1 C817.5 617.4 824.0 618.0 830.6 618.8 C837.2 619.6 843.9 621.4 850.6 621.8 C857.3 622.2 864.0 621.4 870.6 621.3 C877.3 621.2 884.0 621.7 890.7 621.1 C897.3 620.4 904.0 618.3 910.7 617.3 C917.3 616.4 925.5 616.0 930.5 615.3 C935.4 614.6 937.2 614.3 940.5 613.3 C943.7 612.3 946.7 610.9 950.0 609.3 C953.3 607.7 955.3 606.0 960.3 603.8 C965.3 601.6 973.4 598.4 980.0 596.3 C986.7 594.2 993.4 592.7 1000.1 591.3 C1006.7 589.8 1013.4 588.3 1020.1 587.5 C1026.7 586.7 1033.5 586.7 1040.1 586.5 C1046.7 586.4 1053.2 585.9 1059.9 586.5 C1066.5 587.1 1074.9 588.8 1079.9 590.0 C1084.9 591.2 1084.9 591.6 1089.9 593.8 C1094.9 596.0 1103.2 600.5 1109.9 603.0 C1116.6 605.6 1123.3 607.5 1129.9 609.3 C1136.6 611.1 1143.3 612.0 1149.9 613.8 C1156.6 615.6 1163.1 617.8 1169.7 620.3 C1176.4 622.8 1184.7 626.9 1189.7 628.8 C1194.7 630.7 1194.7 630.9 1199.7 631.8 C1204.8 632.7 1213.1 634.3 1219.8 634.3 C1226.4 634.4 1233.1 632.2 1239.8 632.1 C1246.5 631.9 1253.2 632.8 1259.8 633.3 C1266.4 633.8 1274.6 634.6 1279.6 635.1 C1284.5 635.5 1286.3 636.0 1289.6 636.1 C1292.9 636.2 1296.3 636.1 1299.6 635.8 C1302.9 635.6 1306.3 635.1 1309.6 634.6 C1312.9 634.0 1316.3 633.5 1319.6 632.6 C1323.0 631.6 1326.3 629.9 1329.6 628.8 C1333.0 627.7 1338.0 626.3 1339.6 625.8" fill="none" stroke="#ffeb3b" stroke-width="1.6" stroke-linejoin="round" stroke-linecap="round" />
<polyline points="16.0,652.6 22.5,664.4 32.5,665.9 42.5,667.6 52.5,670.9 62.4,660.1 72.4,661.9 82.4,665.1 92.4,660.4 102.3,662.6 112.3,674.1 122.3,678.9 132.3,679.1 142.3,663.1 152.2,648.8 162.2,648.3 172.2,631.8 182.2,632.3 192.1,633.6 202.1,629.8 212.1,647.1 222.1,642.6 232.0,625.8 242.0,635.6 252.0,626.8 262.0,616.8 271.9,578.8 281.9,580.0 291.9,577.0 301.9,570.5 311.8,573.0 321.8,573.0 331.8,574.5 341.8,588.3 351.8,594.3 361.7,597.0 371.7,606.3 381.7,605.6 391.7,606.3 401.6,607.1 411.6,620.6 421.6,622.6 431.6,615.8 441.5,621.8 451.5,622.1 461.5,623.3 471.5,638.3 481.4,640.8 491.4,669.1 501.4,660.4 511.4,659.9 521.3,654.3 531.3,656.1 541.3,645.1 551.3,648.1 561.2,647.3 571.2,648.6 581.2,656.4 591.2,630.1 601.2,635.1 611.1,628.3 621.1,626.8 631.1,625.6 641.1,623.3 651.0,622.8 661.0,624.8 671.0,615.1 681.0,611.8 690.9,620.6 700.9,621.3 710.9,610.3 720.9,624.3 730.8,617.6 740.8,616.6 750.8,605.8 760.8,622.3 770.7,620.6 780.7,614.8 790.7,614.1 800.7,620.1 810.6,620.6 820.6,625.8 830.6,632.6 840.6,639.1 850.6,631.8 860.5,619.6 870.5,617.8 880.5,613.3 890.5,605.8 900.4,596.0 910.4,591.8 920.4,602.0 930.4,599.0 940.3,590.0 950.3,572.0 960.3,566.8 970.3,566.3 980.2,581.8 990.2,593.0 1000.2,584.5 1010.2,593.0 1020.1,589.3 1030.1,589.3 1040.1,589.3 1050.1,596.8 1060.0,598.3 1070.0,626.3 1080.0,618.6 1090.0,620.1 1100.0,634.3 1109.9,633.1 1119.9,625.8 1129.9,628.3 1139.9,622.8 1149.8,616.3 1159.8,626.8 1169.8,639.8 1179.8,639.8 1189.7,661.9 1199.7,648.3 1209.7,646.3 1219.7,637.6 1229.6,606.3 1239.6,612.8 1249.6,639.6 1259.6,638.3 1269.5,635.8 1279.5,640.8 1289.5,632.6 1299.5,622.6 1309.4,619.3 1319.4,607.8 1329.4,612.3 1339.4,610.1" fill="none" stroke="#8e1a9e" stroke-width="1.6" stroke-linejoin="round" stroke-linecap="round" />
<rect x="23" y="727.5" width="1" height="4.3" fill="#ff5252"/>
<rect x="33" y="727.5" width="1" height="6.3" fill="#ff5252"/>
<rect x="42" y="727.5" width="1" height="7.0" fill="#ff5252"/>
<rect x="52" y="727.5" width="1" height="7.8" fill="#ff5252"/>
<rect x="62" y="727.5" width="1" height="7.3" fill="#ffcdd2"/>
<rect x="72" y="727.5" width="1" height="6.8" fill="#ffcdd2"/>
<rect x="82" y="727.5" width="1" height="6.3" fill="#ffcdd2"/>
<rect x="92" y="727.5" width="1" height="5.0" fill="#ffcdd2"/>
<rect x="102" y="727.5" width="1" height="3.8" fill="#ffcdd2"/>
<rect x="112" y="727.5" width="1" height="4.4" fill="#ff5252"/>
<rect x="122" y="727.5" width="1" height="5.0" fill="#ff5252"/>
<rect x="132" y="727.5" width="1" height="5.5" fill="#ff5252"/>
<rect x="142" y="727.5" width="1" height="4.0" fill="#ffcdd2"/>
<rect x="152" y="727.5" width="1" height="1.9" fill="#ffcdd2"/>
<rect x="172" y="725.2" width="1" height="2.3" fill="#26a69a"/>
<rect x="182" y="723.2" width="1" height="4.3" fill="#26a69a"/>
<rect x="192" y="722.5" width="1" height="5.0" fill="#26a69a"/>
<rect x="202" y="721.8" width="1" height="5.7" fill="#26a69a"/>
<rect x="212" y="722.5" width="1" height="5.0" fill="#b2dfdb"/>
<rect x="222" y="723.2" width="1" height="4.3" fill="#b2dfdb"/>
<rect x="232" y="722.4" width="1" height="5.1" fill="#26a69a"/>
<rect x="242" y="722.5" width="1" height="5.0" fill="#b2dfdb"/>
<rect x="252" y="721.9" width="1" height="5.6" fill="#26a69a"/>
<rect x="262" y="721.2" width="1" height="6.3" fill="#26a69a"/>
<rect x="272" y="715.8" width="1" height="11.7" fill="#26a69a"/>
<rect x="282" y="711.8" width="1" height="15.7" fill="#26a69a"/>
<rect x="292" y="708.0" width="1" height="19.5" fill="#26a69a"/>
<rect x="302" y="708.2" width="1" height="19.3" fill="#b2dfdb"/>
<rect x="312" y="710.0" width="1" height="17.5" fill="#b2dfdb"/>
<rect x="322" y="712.0" width="1" height="15.5" fill="#b2dfdb"/>
<rect x="332" y="714.5" width="1" height="13.0" fill="#b2dfdb"/>
<rect x="342" y="717.0" width="1" height="10.5" fill="#b2dfdb"/>
<rect x="352" y="719.1" width="1" height="8.4" fill="#b2dfdb"/>
<rect x="362" y="721.2" width="1" height="6.3" fill="#b2dfdb"/>
<rect x="372" y="723.7" width="1" height="3.8" fill="#b2dfdb"/>
<rect x="382" y="726.3" width="1" height="1.2" fill="#b2dfdb"/>
<rect x="402" y="727.5" width="1" height="1.0" fill="#ff5252"/>
<rect x="412" y="727.5" width="1" height="3.0" fill="#ff5252"/>
<rect x="422" y="727.5" width="1" height="5.0" fill="#ff5252"/>
<rect x="432" y="727.5" width="1" height="5.6" fill="#ff5252"/>
<rect x="442" y="727.5" width="1" height="6.2" fill="#ff5252"/>
<rect x="452" y="727.5" width="1" height="6.3" fill="#ff5252"/>
<rect x="461" y="727.5" width="1" height="6.3" fill="#ff5252"/>
<rect x="471" y="727.5" width="1" height="7.3" fill="#ff5252"/>
<rect x="481" y="727.5" width="1" height="8.6" fill="#ff5252"/>
<rect x="491" y="727.5" width="1" height="11.1" fill="#ff5252"/>
<rect x="501" y="727.5" width="1" height="12.5" fill="#ff5252"/>
<rect x="511" y="727.5" width="1" height="13.3" fill="#ffcdd2"/>
<rect x="521" y="727.5" width="1" height="12.1" fill="#ffcdd2"/>
<rect x="531" y="727.5" width="1" height="11.3" fill="#ffcdd2"/>
<rect x="541" y="727.5" width="1" height="9.1" fill="#ffcdd2"/>
<rect x="551" y="727.5" width="1" height="7.7" fill="#ffcdd2"/>
<rect x="561" y="727.5" width="1" height="6.0" fill="#ffcdd2"/>
<rect x="571" y="727.5" width="1" height="4.8" fill="#ffcdd2"/>
<rect x="581" y="727.5" width="1" height="4.5" fill="#ffcdd2"/>
<rect x="591" y="727.5" width="1" height="1.7" fill="#ffcdd2"/>
<rect x="611" y="726.5" width="1" height="1.0" fill="#26a69a"/>
<rect x="621" y="725.8" width="1" height="1.7" fill="#26a69a"/>
<rect x="631" y="725.0" width="1" height="2.5" fill="#26a69a"/>
<rect x="641" y="724.7" width="1" height="2.8" fill="#26a69a"/>
<rect x="651" y="724.5" width="1" height="3.0" fill="#26a69a"/>
<rect x="661" y="724.6" width="1" height="2.9" fill="#b2dfdb"/>
<rect x="671" y="724.0" width="1" height="3.5" fill="#26a69a"/>
<rect x="681" y="723.5" width="1" height="4.0" fill="#26a69a"/>
<rect x="691" y="724.1" width="1" height="3.4" fill="#b2dfdb"/>
<rect x="701" y="724.6" width="1" height="2.9" fill="#b2dfdb"/>
<rect x="711" y="724.5" width="1" height="3.0" fill="#26a69a"/>
<rect x="721" y="724.9" width="1" height="2.6" fill="#b2dfdb"/>
<rect x="731" y="725.2" width="1" height="2.3" fill="#b2dfdb"/>
<rect x="741" y="725.2" width="1" height="2.3" fill="#b2dfdb"/>
<rect x="751" y="725.2" width="1" height="2.3" fill="#b2dfdb"/>
<rect x="761" y="725.9" width="1" height="1.6" fill="#b2dfdb"/>
<rect x="771" y="726.5" width="1" height="1.0" fill="#b2dfdb"/>
<rect x="781" y="726.5" width="1" height="1.0" fill="#b2dfdb"/>
<rect x="791" y="726.5" width="1" height="1.0" fill="#26a69a"/>
<rect x="801" y="726.9" width="1" height="0.6" fill="#b2dfdb"/>
<rect x="831" y="727.5" width="1" height="0.5" fill="#ff5252"/>
<rect x="841" y="727.5" width="1" height="1.4" fill="#ff5252"/>
<rect x="851" y="727.5" width="1" height="1.5" fill="#ff5252"/>
<rect x="861" y="727.5" width="1" height="0.9" fill="#ffcdd2"/>
<rect x="890" y="726.5" width="1" height="1.0" fill="#26a69a"/>
<rect x="900" y="725.8" width="1" height="1.7" fill="#26a69a"/>
<rect x="910" y="725.0" width="1" height="2.5" fill="#26a69a"/>
<rect x="920" y="725.1" width="1" height="2.4" fill="#b2dfdb"/>
<rect x="930" y="725.2" width="1" height="2.3" fill="#b2dfdb"/>
<rect x="940" y="724.8" width="1" height="2.7" fill="#26a69a"/>
<rect x="950" y="722.0" width="1" height="5.5" fill="#26a69a"/>
<rect x="960" y="721.2" width="1" height="6.3" fill="#26a69a"/>
<rect x="970" y="720.8" width="1" height="6.7" fill="#26a69a"/>
<rect x="980" y="721.5" width="1" height="6.0" fill="#b2dfdb"/>
<rect x="990" y="722.4" width="1" height="5.1" fill="#b2dfdb"/>
<rect x="1000" y="723.3" width="1" height="4.2" fill="#b2dfdb"/>
<rect x="1010" y="724.0" width="1" height="3.5" fill="#b2dfdb"/>
<rect x="1020" y="724.8" width="1" height="2.7" fill="#b2dfdb"/>
<rect x="1030" y="725.5" width="1" height="2.0" fill="#b2dfdb"/>
<rect x="1040" y="726.2" width="1" height="1.3" fill="#b2dfdb"/>
<rect x="1050" y="726.9" width="1" height="0.6" fill="#b2dfdb"/>
<rect x="1070" y="727.5" width="1" height="1.8" fill="#ff5252"/>
<rect x="1080" y="727.5" width="1" height="2.8" fill="#ff5252"/>
<rect x="1090" y="727.5" width="1" height="3.6" fill="#ff5252"/>
<rect x="1100" y="727.5" width="1" height="4.5" fill="#ff5252"/>
<rect x="1110" y="727.5" width="1" height="4.8" fill="#ff5252"/>
<rect x="1120" y="727.5" width="1" height="4.3" fill="#ffcdd2"/>
<rect x="1130" y="727.5" width="1" height="4.1" fill="#ffcdd2"/>
<rect x="1140" y="727.5" width="1" height="3.5" fill="#ffcdd2"/>
<rect x="1150" y="727.5" width="1" height="2.9" fill="#ffcdd2"/>
<rect x="1160" y="727.5" width="1" height="3.2" fill="#ff5252"/>
<rect x="1170" y="727.5" width="1" height="3.5" fill="#ff5252"/>
<rect x="1180" y="727.5" width="1" height="3.5" fill="#ff5252"/>
<rect x="1190" y="727.5" width="1" height="4.8" fill="#ff5252"/>
<rect x="1200" y="727.5" width="1" height="5.3" fill="#ff5252"/>
<rect x="1210" y="727.5" width="1" height="5.3" fill="#ff5252"/>
<rect x="1220" y="727.5" width="1" height="4.3" fill="#ffcdd2"/>
<rect x="1230" y="727.5" width="1" height="1.4" fill="#ffcdd2"/>
<rect x="1250" y="727.5" width="1" height="0.7" fill="#ff5252"/>
<rect x="1260" y="727.5" width="1" height="1.2" fill="#ff5252"/>
<rect x="1270" y="727.5" width="1" height="1.5" fill="#ff5252"/>
<rect x="1280" y="727.5" width="1" height="1.8" fill="#ff5252"/>
<rect x="1289" y="727.5" width="1" height="1.6" fill="#ffcdd2"/>
<rect x="1299" y="727.5" width="1" height="0.5" fill="#ffcdd2"/>
<rect x="1319" y="726.0" width="1" height="1.5" fill="#26a69a"/>
<rect x="1329" y="725.5" width="1" height="2.0" fill="#26a69a"/>
<rect x="1339" y="725.0" width="1" height="2.5" fill="#26a69a"/>
<path d="M15.0 733.4 C17.9 734.6 26.3 738.1 32.5 740.2 C38.8 742.3 44.2 744.5 52.5 745.9 C60.9 747.4 74.3 748.4 82.6 748.9 C90.9 749.4 95.7 748.2 102.3 748.9 C109.0 749.7 117.4 752.4 122.4 753.4 C127.4 754.4 129.0 754.8 132.4 754.9 C135.7 755.1 137.4 755.2 142.4 754.4 C147.3 753.7 155.5 752.3 162.2 750.7 C168.8 749.1 175.5 746.4 182.2 744.7 C188.8 743.0 195.5 741.4 202.2 740.7 C208.9 739.9 217.2 740.6 222.2 740.2 C227.2 739.8 228.7 738.7 232.0 738.2 C235.3 737.7 237.0 738.0 242.0 737.2 C247.0 736.3 257.0 735.3 262.0 733.2 C267.0 731.1 268.7 727.5 272.0 724.7 C275.3 721.9 278.7 719.2 282.0 716.4 C285.4 713.6 288.7 710.2 292.0 707.7 C295.3 705.2 298.5 703.2 301.8 701.4 C305.1 699.6 308.5 698.2 311.8 696.9 C315.1 695.6 318.5 694.3 321.8 693.4 C325.1 692.5 328.5 692.0 331.8 691.6 C335.2 691.3 336.8 691.1 341.8 691.4 C346.8 691.7 355.2 692.3 361.9 693.4 C368.5 694.5 375.0 696.8 381.6 698.1 C388.3 699.5 395.0 699.8 401.6 701.4 C408.3 703.0 415.0 705.9 421.7 707.7 C428.3 709.4 435.1 710.8 441.7 712.2 C448.3 713.5 455.1 714.4 461.5 715.9 C467.8 717.5 475.0 719.5 480.0 721.4 C485.0 723.4 487.7 725.9 491.3 727.7 C494.8 729.5 497.9 730.8 501.3 732.2 C504.6 733.5 506.3 734.6 511.3 735.7 C516.3 736.8 524.6 738.3 531.3 738.9 C538.0 739.6 544.7 739.6 551.3 739.7 C558.0 739.8 566.1 739.5 571.1 739.7 C576.1 739.9 577.8 740.9 581.1 740.7 C584.4 740.5 586.1 739.5 591.1 738.7 C596.1 737.9 604.5 736.8 611.1 735.9 C617.8 735.1 624.5 734.2 631.2 733.4 C637.8 732.7 646.0 731.9 650.9 731.4 C655.9 731.0 655.9 731.3 660.9 730.7 C665.9 730.1 674.3 728.3 681.0 727.7 C687.6 727.0 696.0 727.2 701.0 726.9 C706.0 726.6 706.0 726.2 711.0 725.9 C716.0 725.7 724.4 725.7 731.0 725.4 C737.6 725.1 744.1 724.3 750.8 724.2 C757.4 724.0 764.1 724.5 770.8 724.4 C777.5 724.3 784.1 723.7 790.8 723.7 C797.5 723.6 804.2 723.9 810.8 724.2 C817.5 724.4 825.6 724.8 830.6 725.2 C835.6 725.5 837.3 726.1 840.6 726.4 C843.9 726.7 845.6 727.0 850.6 726.9 C855.6 726.9 864.0 726.6 870.6 726.2 C877.3 725.8 884.0 725.2 890.7 724.4 C897.3 723.7 904.0 722.3 910.7 721.7 C917.3 721.0 925.5 721.0 930.5 720.7 C935.4 720.3 937.2 720.3 940.5 719.4 C943.7 718.5 946.7 716.3 950.0 715.2 C953.3 714.0 956.9 713.4 960.3 712.7 C963.6 711.9 967.0 711.3 970.3 710.9 C973.6 710.5 975.1 710.6 980.0 710.4 C985.0 710.2 993.4 710.0 1000.1 709.9 C1006.7 709.8 1013.4 709.8 1020.1 709.9 C1026.7 710.0 1035.1 710.2 1040.1 710.4 C1045.1 710.6 1046.8 710.9 1050.1 711.2 C1053.4 711.4 1056.6 711.4 1059.9 711.9 C1063.2 712.4 1066.5 713.5 1069.9 714.2 C1073.2 714.8 1076.5 715.1 1079.9 715.7 C1083.2 716.2 1086.6 717.0 1089.9 717.7 C1093.2 718.3 1096.6 719.1 1099.9 719.7 C1103.2 720.2 1104.9 720.7 1109.9 721.2 C1114.9 721.7 1123.3 722.3 1129.9 722.7 C1136.6 723.0 1143.3 722.7 1149.9 723.2 C1156.6 723.7 1164.8 725.1 1169.7 725.7 C1174.7 726.3 1176.4 726.1 1179.7 726.7 C1183.1 727.3 1186.4 728.5 1189.7 729.2 C1193.1 729.9 1196.4 730.5 1199.7 730.9 C1203.1 731.4 1206.4 731.8 1209.8 731.9 C1213.1 732.1 1216.4 732.4 1219.8 731.9 C1223.1 731.5 1226.4 729.8 1229.8 729.2 C1233.1 728.5 1234.8 728.1 1239.8 728.2 C1244.8 728.3 1253.2 729.2 1259.8 729.7 C1266.4 730.1 1274.6 730.7 1279.6 730.9 C1284.5 731.1 1286.3 731.1 1289.6 730.9 C1292.9 730.8 1296.3 730.3 1299.6 729.9 C1302.9 729.5 1306.3 729.2 1309.6 728.7 C1312.9 728.2 1316.3 727.4 1319.6 726.9 C1323.0 726.4 1326.3 726.0 1329.6 725.7 C1333.0 725.3 1338.0 724.8 1339.6 724.7" fill="none" stroke="#2962ff" stroke-width="1.5" stroke-linejoin="round" stroke-linecap="round" />
<path d="M15.0 730.7 C17.9 731.2 26.3 732.7 32.5 733.9 C38.8 735.2 44.2 736.7 52.5 738.2 C60.9 739.6 74.3 741.5 82.6 742.7 C90.9 743.9 95.7 744.2 102.3 745.2 C109.0 746.1 115.7 747.6 122.4 748.4 C129.0 749.3 135.8 750.0 142.4 750.4 C149.0 750.9 155.5 751.2 162.2 750.9 C168.8 750.7 175.5 749.7 182.2 748.9 C188.8 748.2 195.5 747.2 202.2 746.4 C208.9 745.7 215.6 745.1 222.2 744.4 C228.8 743.7 235.4 743.0 242.0 742.2 C248.6 741.4 257.0 740.4 262.0 739.4 C267.0 738.5 268.7 737.6 272.0 736.4 C275.3 735.2 278.7 733.7 282.0 732.2 C285.4 730.6 288.7 729.1 292.0 727.2 C295.3 725.3 298.5 722.8 301.8 720.7 C305.1 718.5 308.5 716.4 311.8 714.4 C315.1 712.4 318.5 710.5 321.8 708.9 C325.1 707.3 328.5 705.8 331.8 704.6 C335.2 703.5 336.8 702.7 341.8 701.9 C346.8 701.1 355.2 700.1 361.9 699.6 C368.5 699.2 375.0 699.3 381.6 699.4 C388.3 699.5 395.0 699.9 401.6 700.4 C408.3 700.9 415.0 701.7 421.7 702.6 C428.3 703.6 435.1 704.7 441.7 705.9 C448.3 707.1 455.1 708.4 461.5 709.7 C467.8 710.9 473.4 711.5 480.0 713.2 C486.6 714.8 494.4 717.7 501.3 719.7 C508.2 721.7 514.6 723.4 521.3 725.2 C528.0 726.9 534.7 728.8 541.3 730.2 C547.9 731.6 554.4 732.7 561.1 733.7 C567.7 734.7 576.1 735.6 581.1 736.2 C586.1 736.7 586.1 736.8 591.1 736.9 C596.1 737.1 604.5 737.1 611.1 736.9 C617.8 736.8 624.5 736.3 631.2 735.9 C637.8 735.5 644.3 735.0 650.9 734.4 C657.6 733.9 664.3 733.3 670.9 732.7 C677.6 732.1 684.3 731.3 691.0 730.7 C697.6 730.1 704.3 729.4 711.0 728.9 C717.7 728.4 724.4 728.1 731.0 727.7 C737.6 727.3 744.1 726.8 750.8 726.4 C757.4 726.0 764.1 725.7 770.8 725.4 C777.5 725.1 784.1 724.8 790.8 724.7 C797.5 724.5 804.2 724.4 810.8 724.4 C817.5 724.4 824.0 724.5 830.6 724.7 C837.2 724.8 843.9 725.2 850.6 725.4 C857.3 725.6 864.0 725.9 870.6 725.9 C877.3 725.9 884.0 725.7 890.7 725.4 C897.3 725.1 904.0 724.6 910.7 724.2 C917.3 723.8 925.5 723.3 930.5 722.9 C935.4 722.6 937.2 722.5 940.5 722.2 C943.7 721.8 946.7 721.2 950.0 720.7 C953.3 720.1 955.3 719.6 960.3 718.9 C965.3 718.2 973.4 717.2 980.0 716.4 C986.7 715.6 993.4 714.8 1000.1 714.2 C1006.7 713.5 1013.4 713.1 1020.1 712.7 C1026.7 712.2 1033.5 711.8 1040.1 711.7 C1046.7 711.5 1053.2 711.7 1059.9 711.9 C1066.5 712.1 1073.2 712.4 1079.9 712.9 C1086.6 713.5 1093.2 714.4 1099.9 715.2 C1106.6 716.0 1113.2 717.0 1119.9 717.7 C1126.6 718.4 1133.3 718.8 1139.9 719.4 C1146.6 720.0 1153.1 720.5 1159.7 721.2 C1166.3 721.8 1173.1 722.4 1179.7 723.2 C1186.4 723.9 1193.1 724.9 1199.7 725.7 C1206.4 726.4 1213.1 727.3 1219.8 727.7 C1226.4 728.0 1233.1 727.8 1239.8 727.9 C1246.5 728.0 1253.2 728.2 1259.8 728.4 C1266.4 728.6 1272.9 729.0 1279.6 729.2 C1286.2 729.3 1294.6 729.4 1299.6 729.4 C1304.6 729.4 1306.3 729.3 1309.6 729.2 C1312.9 729.0 1316.3 728.7 1319.6 728.4 C1323.0 728.2 1326.3 727.9 1329.6 727.7 C1333.0 727.5 1338.0 727.3 1339.6 727.2" fill="none" stroke="#ff6d00" stroke-width="1.5" stroke-linejoin="round" stroke-linecap="round" />
</g>
<text x="27.4" y="69.7" font-size="17.5" fill="#3a3a3a" text-anchor="start" font-weight="normal" textLength="301.0" lengthAdjust="spacing" stroke="#3a3a3a" stroke-width="0.4" >Ethereum / U.S. Dollar · 1h · KRAKEN</text>
<text x="340.8" y="69.7" font-size="17.5" fill="#3a3a3a" text-anchor="start" font-weight="normal" stroke="#3a3a3a" stroke-width="0.4" >O</text>
<text x="353.3" y="69.7" font-size="17.5" fill="#1d5537" text-anchor="start" font-weight="normal" textLength="68.0" lengthAdjust="spacing" stroke="#1d5537" stroke-width="0.4" >1,629.00</text>
<text x="433.3" y="69.7" font-size="17.5" fill="#3a3a3a" text-anchor="start" font-weight="normal" stroke="#3a3a3a" stroke-width="0.4" >H</text>
<text x="445.3" y="69.7" font-size="17.5" fill="#1d5537" text-anchor="start" font-weight="normal" textLength="68.6" lengthAdjust="spacing" stroke="#1d5537" stroke-width="0.4" >1,632.99</text>
<text x="525.9" y="69.7" font-size="17.5" fill="#3a3a3a" text-anchor="start" font-weight="normal" stroke="#3a3a3a" stroke-width="0.4" >L</text>
<text x="535.5" y="69.7" font-size="17.5" fill="#1d5537" text-anchor="start" font-weight="normal" textLength="68.5" lengthAdjust="spacing" stroke="#1d5537" stroke-width="0.4" >1,629.00</text>
<text x="615.5" y="69.7" font-size="17.5" fill="#3a3a3a" text-anchor="start" font-weight="normal" stroke="#3a3a3a" stroke-width="0.4" >C</text>
<text x="626.7" y="69.7" font-size="17.5" fill="#1d5537" text-anchor="start" font-weight="normal" textLength="68.8" lengthAdjust="spacing" stroke="#1d5537" stroke-width="0.4" >1,632.99</text>
<text x="706.7" y="69.7" font-size="17.5" fill="#1d5537" text-anchor="start" font-weight="normal" textLength="117.3" lengthAdjust="spacing" stroke="#1d5537" stroke-width="0.4" >+3.75 (+0.23%)</text>
<text x="27.4" y="96.2" font-size="17.5" fill="#3a3a3a" text-anchor="start" font-weight="normal" textLength="237.6" lengthAdjust="spacing" stroke="#3a3a3a" stroke-width="0.4" >EMA (100, close, 0, SMA, 100)</text>
<text x="278.3" y="96.2" font-size="17.5" fill="#1fbcd6" text-anchor="start" font-weight="normal" textLength="66.7" lengthAdjust="spacing" stroke="#1fbcd6" stroke-width="0.4" >1,597.91</text>
<text x="27.0" y="588.7" font-size="17.5" fill="#3a3a3a" text-anchor="start" font-weight="normal" textLength="210.0" lengthAdjust="spacing" stroke="#3a3a3a" stroke-width="0.4" >RSI (14, close, SMA, 14, 2)</text>
<text x="249.5" y="588.7" font-size="17.5" fill="#8e1a9e" text-anchor="start" font-weight="normal" textLength="41.7" lengthAdjust="spacing" stroke="#8e1a9e" stroke-width="0.4" >57.81</text>
<text x="304.5" y="588.7" font-size="17.5" fill="#ffeb3b" text-anchor="start" font-weight="normal" textLength="43.5" lengthAdjust="spacing" stroke="#ffeb3b" stroke-width="0.4" >50.37</text>
<text x="359.0" y="588.7" font-size="15.5" fill="#3a3a3a" text-anchor="start" font-weight="normal" stroke="#3a3a3a" stroke-width="0.2" >∅</text>
<text x="382.0" y="588.7" font-size="15.5" fill="#3a3a3a" text-anchor="start" font-weight="normal" stroke="#3a3a3a" stroke-width="0.2" >∅</text>
<text x="27.0" y="717.2" font-size="17.5" fill="#3a3a3a" text-anchor="start" font-weight="normal" textLength="277.5" lengthAdjust="spacing" stroke="#3a3a3a" stroke-width="0.4" >MACD (12, 26, close, 9, EMA, EMA)</text>
<text x="316.0" y="717.2" font-size="17.5" fill="#26a69a" text-anchor="start" font-weight="normal" textLength="34.0" lengthAdjust="spacing" stroke="#26a69a" stroke-width="0.4" >4.02</text>
<text x="362.0" y="717.2" font-size="17.5" fill="#2962ff" text-anchor="start" font-weight="normal" textLength="34.0" lengthAdjust="spacing" stroke="#2962ff" stroke-width="0.4" >3.54</text>
<text x="407.5" y="717.2" font-size="17.5" fill="#ff6d00" text-anchor="start" font-weight="normal" textLength="43.0" lengthAdjust="spacing" stroke="#ff6d00" stroke-width="0.4" >−0.49</text>
<g>
<circle cx="1339.8" cy="539.3" r="15.2" fill="#fff" stroke="#fff" stroke-width="2.6"/>
<circle cx="1339.8" cy="539.3" r="14.3" fill="none" stroke="#9c27b0" stroke-width="2.3"/>
<path d="M1344.8 530.6 L1333.2 540.6 L1339.2 540.6 L1334.6 548.6 L1346.3 538.3 L1340.3 538.3 Z" fill="#9c27b0"/>
<path d="M1323.5 536.8 Q1324.8 543.3 1331.0 544.6 Q1324.8 545.9 1323.5 552.4 Q1322.2 545.9 1316.0 544.6 Q1322.2 543.3 1323.5 536.8 Z" fill="#7c4dff" stroke="#fff" stroke-width="2.4" paint-order="stroke"/>
</g>
<rect x="1842" y="42" width="1.3" height="759.7" fill="#4a4a4a"/>
<rect x="15" y="760" width="1920.0" height="1.3" fill="#4a4a4a"/>
<text x="1856.5" y="143.7" font-size="16" fill="#3a3a3a" text-anchor="start" font-weight="normal" textLength="62.4" lengthAdjust="spacing" stroke="#3a3a3a" stroke-width="0.25" >1,640.00</text>
<text x="1856.5" y="204.9" font-size="16" fill="#3a3a3a" text-anchor="start" font-weight="normal" textLength="62.4" lengthAdjust="spacing" stroke="#3a3a3a" stroke-width="0.25" >1,600.00</text>
<text x="1856.5" y="266.2" font-size="16" fill="#3a3a3a" text-anchor="start" font-weight="normal" textLength="62.4" lengthAdjust="spacing" stroke="#3a3a3a" stroke-width="0.25" >1,560.00</text>
<text x="1856.5" y="327.6" font-size="16" fill="#3a3a3a" text-anchor="start" font-weight="normal" textLength="62.4" lengthAdjust="spacing" stroke="#3a3a3a" stroke-width="0.25" >1,520.00</text>
<text x="1856.5" y="450.1" font-size="16" fill="#3a3a3a" text-anchor="start" font-weight="normal" textLength="62.4" lengthAdjust="spacing" stroke="#3a3a3a" stroke-width="0.25" >1,440.00</text>
<text x="1856.5" y="511.5" font-size="16" fill="#3a3a3a" text-anchor="start" font-weight="normal" textLength="62.4" lengthAdjust="spacing" stroke="#3a3a3a" stroke-width="0.25" >1,400.00</text>
<g clip-path="url(#cax)">
<text x="1856.5" y="568.4" font-size="16" fill="#3a3a3a" text-anchor="start" font-weight="normal" textLength="40.0" lengthAdjust="spacing" stroke="#3a3a3a" stroke-width="0.25" >80.00</text>
<text x="1856.5" y="611.4" font-size="16" fill="#3a3a3a" text-anchor="start" font-weight="normal" textLength="40.0" lengthAdjust="spacing" stroke="#3a3a3a" stroke-width="0.25" >60.00</text>
<text x="1856.5" y="653.4" font-size="16" fill="#3a3a3a" text-anchor="start" font-weight="normal" textLength="40.0" lengthAdjust="spacing" stroke="#3a3a3a" stroke-width="0.25" >40.00</text>
</g>
<text x="1856.5" y="732.4" font-size="16" fill="#3a3a3a" text-anchor="start" font-weight="normal" textLength="31.2" lengthAdjust="spacing" stroke="#3a3a3a" stroke-width="0.25" >0.00</text>
<path d="M1843.3 91 H1926 V93 Q1926 96 1923 96 H1843.3 Z" fill="#ff0000"/>
<text x="1857.0" y="90.0" font-size="16" fill="#fff" text-anchor="start" font-weight="bold" textLength="63.0" lengthAdjust="spacing" >1,676.35</text>
<rect x="1843.3" y="42" width="91" height="49" fill="#fff"/>
<rect x="1847.5" y="46.7" width="80.3" height="38.3" rx="6" fill="#fff" stroke="#e9e9e9" stroke-width="1.3"/>
<text x="1862.3" y="72.0" font-size="15.6" fill="#111" text-anchor="start" font-weight="normal" textLength="31.8" lengthAdjust="spacing" stroke="#111" stroke-width="0.3" >USD</text>
<path d="M1843.3 139 H1923 Q1926 139 1926 142 V177.5 Q1926 180.5 1923 180.5 H1843.3 Z" fill="#0000ff"/>
<text x="1857.0" y="155.2" font-size="16" fill="#fff" text-anchor="start" font-weight="bold" textLength="63.2" lengthAdjust="spacing" >1,632.99</text>
<text x="1857.0" y="173.0" font-size="16" fill="#c4c4ff" text-anchor="start" font-weight="bold" textLength="38.0" lengthAdjust="spacing" >54:53</text>
<path d="M1843.3 231.2 H1923 Q1926 231.2 1926 234.2 V250.8 Q1926 253.8 1923 253.8 H1843.3 Z" fill="#4caf50"/>
<text x="1857.1" y="246.9" font-size="16" fill="#fff" text-anchor="start" font-weight="bold" textLength="63.0" lengthAdjust="spacing" >1,573.37</text>
<path d="M1843.3 372.0 H1923 Q1926 372.0 1926 375.0 V391.8 Q1926 394.8 1923 394.8 H1843.3 Z" fill="#4caf50"/>
<text x="1857.1" y="387.8" font-size="16" fill="#fff" text-anchor="start" font-weight="bold" textLength="63.0" lengthAdjust="spacing" >1,481.33</text>
<path d="M1843.3 480.9 H1923 Q1926 480.9 1926 483.9 V500.7 Q1926 503.7 1923 503.7 H1843.3 Z" fill="#4caf50"/>
<text x="1857.1" y="496.7" font-size="16" fill="#fff" text-anchor="start" font-weight="bold" textLength="63.0" lengthAdjust="spacing" >1,410.04</text>
<path d="M1843.3 536.1 H1923 Q1926 536.1 1926 539.1 V555.9 Q1926 558.9 1923 558.9 H1843.3 Z" fill="#4caf50"/>
<text x="1857.1" y="551.9" font-size="16" fill="#fff" text-anchor="start" font-weight="bold" textLength="63.0" lengthAdjust="spacing" >1,370.98</text>
<text x="102.5" y="785.5" font-size="16" fill="#3a3a3a" text-anchor="middle" font-weight="normal" stroke="#3a3a3a" stroke-width="0.25" >9</text>
<text x="342.5" y="785.5" font-size="16" fill="#3a3a3a" text-anchor="middle" font-weight="normal" stroke="#3a3a3a" stroke-width="0.25" >10</text>
<text x="581.5" y="785.5" font-size="16" fill="#3a3a3a" text-anchor="middle" font-weight="normal" stroke="#3a3a3a" stroke-width="0.25" >11</text>
<text x="821.5" y="785.5" font-size="16" fill="#3a3a3a" text-anchor="middle" font-weight="normal" stroke="#3a3a3a" stroke-width="0.25" >12</text>
<text x="1060.5" y="785.5" font-size="16" fill="#3a3a3a" text-anchor="middle" font-weight="normal" stroke="#3a3a3a" stroke-width="0.25" >13</text>
<text x="1299.5" y="785.5" font-size="16" fill="#3a3a3a" text-anchor="middle" font-weight="normal" stroke="#3a3a3a" stroke-width="0.25" >14</text>
<text x="1539.5" y="785.5" font-size="16" fill="#3a3a3a" text-anchor="middle" font-weight="normal" stroke="#3a3a3a" stroke-width="0.25" >15</text>
<text x="1778.5" y="785.5" font-size="16" fill="#3a3a3a" text-anchor="middle" font-weight="normal" stroke="#3a3a3a" stroke-width="0.25" >16</text>
<g transform="translate(14.8,817.2) scale(0.825,0.8)" fill="#111"><path d="M14 22H7V11H0V4h14v18zM28 22h-8l7.5-18h8L28 22z"/><circle cx="20" cy="8" r="4"/></g>
<text x="50.3" y="835.4" font-size="19" fill="#111" text-anchor="start" font-weight="normal" textLength="105.0" lengthAdjust="spacing" stroke="#111" stroke-width="0.2" >TradingView</text>
</svg></body></html>
